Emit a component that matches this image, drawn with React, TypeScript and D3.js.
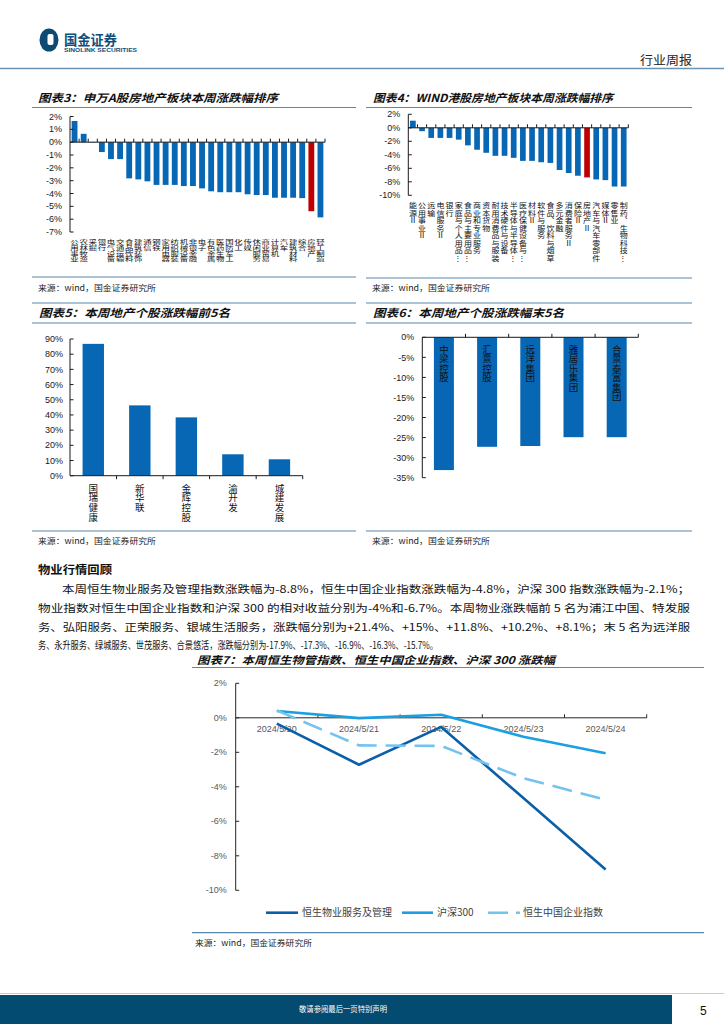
import React from 'react';
import * as d3 from 'd3';

const CJK = '"Noto Sans CJK SC", "Noto Sans", sans-serif';
const NUM = '"Liberation Sans", Arial, sans-serif';
const BLUE = '#0767b4';
const RED = '#c00000';
const RULE = '#5a87ad';

// ---------- Chart 3 data ----------
const c3Categories = ['公用事业', '农林牧渔', '采掘', '银行', '电气设备', '交通运输', '食品饮料', '建筑装饰', '通信', '钢铁', '家用电器', '纺织服装', '机械设备', '非银金融', '电子', '有色金属', '医药生物', '国防军工', '化工', '传媒', '休闲服务', '商业贸易', '计算机', '汽车', '建筑材料', '综合', '房地产', '轻工制造'];
const c3Values = [1.65, 0.65, -0.03, -0.77, -1.32, -1.32, -2.82, -2.9, -3.05, -3.33, -3.33, -3.33, -3.42, -3.42, -3.6, -3.83, -3.9, -3.9, -3.9, -4.06, -4.12, -4.12, -4.33, -4.33, -4.33, -4.36, -5.38, -5.86];
const c3Ticks = [2, 1, 0, -1, -2, -3, -4, -5, -6, -7];
const c3Highlight = '房地产';

// ---------- Chart 4 data ----------
const c4Categories = ['能源Ⅱ', '公用事业Ⅱ', '运输', '电信服务Ⅱ', '银行', '家庭与个人用品⋮', '食品与主要用品⋮', '商业和专业服务', '资本货物', '耐用消费品与服装', '技术硬件与设备', '半导体与半导体⋮', '医疗保健设备与⋮', '材料Ⅱ', '软件与服务', '食品、饮料与烟草', '多元金融', '消费者服务Ⅱ', '保险Ⅱ', '房地产Ⅱ', '汽车与汽车零部件', '媒体Ⅱ', '零售业', '制药、生物科技⋮'];
const c4Values = [1.05, -0.5, -1.5, -1.5, -1.5, -1.75, -2.6, -3.25, -3.7, -4.15, -4.15, -4.45, -4.9, -4.9, -5.1, -5.2, -6.25, -6.7, -7.1, -7.35, -7.65, -7.75, -8.7, -8.7];
const c4Ticks = [2, 0, -2, -4, -6, -8, -10];
const c4Highlight = '房地产Ⅱ';

// ---------- Chart 5 data ----------
const c5Names = ['国瑞健康', '新华联', '金辉控股', '渝开发', '城建发展'];
const c5Values = [86.8, 46.3, 38.4, 14.1, 10.8];
const c5Ticks = [0, 10, 20, 30, 40, 50, 60, 70, 80, 90];

// ---------- Chart 6 data ----------
const c6Names = ['中梁控股', '汇景控股', '远洋集团', '雅居乐集团', '合景泰富集团'];
const c6Values = [-33.1, -27.3, -27.1, -24.9, -24.9];
const c6Ticks = [0, -5, -10, -15, -20, -25, -30, -35];

// ---------- Chart 7 data ----------
const c7Dates = ['2024/5/20', '2024/5/21', '2024/5/22', '2024/5/23', '2024/5/24'];
const c7PropertyMgmt = [-0.34, -2.72, -0.53, -4.65, -8.8];
const c7CSI300 = [0.39, -0.02, 0.18, -1.1, -2.05];
const c7HSCEI = [0.43, -1.6, -1.63, -3.5, -4.75];
const c7Ticks = [2, 0, -2, -4, -6, -8, -10];
const c7SeriesNames = ['恒生物业服务及管理', '沪深300', '恒生中国企业指数'];

// ---------- Text ----------
const sourceText = '来源：wind，国金证券研究所';
const paraLines = [
  '本周恒生物业服务及管理指数涨跌幅为-8.8%，恒生中国企业指数涨跌幅为-4.8%，沪深 300 指数涨跌幅为-2.1%；',
  '物业指数对恒生中国企业指数和沪深 300 的相对收益分别为-4%和-6.7%。本周物业涨跌幅前 5 名为浦江中国、特发服',
  '务、弘阳服务、正荣服务、银城生活服务，涨跌幅分别为+21.4%、+15%、+11.8%、+10.2%、+8.1%；末 5 名为远洋服',
  '务、永升服务、绿城服务、世茂服务、合景悠活，涨跌幅分别为-17.9%、-17.3%、-16.9%、-16.3%、-15.7%。',
];

const pct = (d: number) => `${d}%`;

function Title({ x, y, text, len, size = 11 }: { x: number; y: number; text: string; len: number; size?: number }) {
  return (
    <text x={x} y={y} fontFamily={CJK} fontSize={size} fontWeight={700} fontStyle="italic" fill="#111" textLength={len} lengthAdjust="spacingAndGlyphs">
      {text}
    </text>
  );
}

function Rule({ x1, x2, y, w = 1.2 }: { x1: number; x2: number; y: number; w?: number }) {
  return <line x1={x1} x2={x2} y1={y} y2={y} stroke={RULE} strokeWidth={w} />;
}

function Source({ x, y }: { x: number; y: number }) {
  return (
    <text x={x} y={y} fontFamily={CJK} fontSize={8} fill="#222" textLength={118} lengthAdjust="spacingAndGlyphs">
      {sourceText}
    </text>
  );
}

function YAxis({ scale, ticks, x, labelGap = 8, color = '#1a1a1a', labelColor = '#1a1a1a' }: any) {
  const [d0, d1] = scale.domain();
  return (
    <g>
      <line x1={x} x2={x} y1={scale(d0)} y2={scale(d1)} stroke={color} strokeWidth={1} />
      {ticks.map((t: number) => (
        <g key={t}>
          <line x1={x} x2={x + 3.5} y1={scale(t)} y2={scale(t)} stroke={color} strokeWidth={1} />
          <text x={x - labelGap} y={scale(t)} dy="0.35em" textAnchor="end" fontFamily={NUM} fontSize={9} fill={labelColor}>
            {pct(t)}
          </text>
        </g>
      ))}
    </g>
  );
}

function XAxisLine({ band, y, dir, color = '#1a1a1a' }: any) {
  const [r0, r1] = band.range();
  const n = band.domain().length;
  const step = (r1 - r0) / n;
  return (
    <g>
      <line x1={r0} x2={r1} y1={y} y2={y} stroke={color} strokeWidth={1} />
      {d3.range(1, n + 1).map((i) => (
        <line key={i} x1={r0 + i * step} x2={r0 + i * step} y1={y} y2={y + dir * 3.5} stroke={color} strokeWidth={1} />
      ))}
    </g>
  );
}

// vertical text using vertical writing mode; y0 = centre of first character, step = char pitch
function VText({ cx, y0, step, text, size, sy = 1, fill = '#111' }: any) {
  const ls = step / sy - size;
  return (
    <text
      transform={`translate(${cx},${y0}) scale(1,${sy})`}
      x={0}
      y={-size / 2}
      fontFamily={CJK}
      fontSize={size}
      letterSpacing={ls}
      fill={fill}
      style={{ writingMode: 'vertical-rl', textOrientation: 'upright' } as any}
    >
      {text}
    </text>
  );
}

function Header() {
  return (
    <g>
      <ellipse cx={49} cy={40} rx={9.5} ry={11.5} fill="#0c4a73" />
      <rect x={47.5} y={34} width={6} height={11} rx={2} fill="#fff" />
      <text x={64} y={44.5} fontFamily={CJK} fontSize={13.5} fontWeight={700} fill="#0d4f7c" textLength={53} lengthAdjust="spacingAndGlyphs">
        国金证券
      </text>
      <text x={64} y={51.5} fontFamily={NUM} fontSize={5.6} fontWeight={700} fill="#0d4f7c" textLength={73} lengthAdjust="spacingAndGlyphs">
        SINOLINK SECURITIES
      </text>
      <text x={640} y={65} fontFamily={CJK} fontSize={12} fill="#222" textLength={52} lengthAdjust="spacingAndGlyphs">
        行业周报
      </text>
      <line x1={0} x2={724} y1={68.5} y2={68.5} stroke="#6b93b3" strokeWidth={1.6} />
    </g>
  );
}

function Chart3() {
  const x = d3.scaleBand<string>().domain(c3Categories).range([70, 325]).paddingInner(0.36).paddingOuter(0.18);
  const y = d3.scaleLinear().domain([2, -7]).range([116.5, 232]);
  const y0 = y(0);
  return (
    <g>
      <Title x={38} y={102} text="图表3：申万A股房地产板块本周涨跌幅排序" len={240} />
      <Rule x1={32} x2={356} y={107.5} />
      {c3Categories.map((c, i) => {
        const v = c3Values[i];
        const yy = y(v);
        return (
          <rect key={c} x={x(c)} width={x.bandwidth()} y={Math.min(yy, y0)} height={Math.abs(yy - y0)} fill={c === c3Highlight ? RED : BLUE} />
        );
      })}
      <XAxisLine band={x} y={y0} dir={-1} />
      <YAxis scale={y} ticks={c3Ticks} x={70} />
      {c3Categories.map((c) => (
        <VText key={c} cx={(x(c) as number) + x.bandwidth() / 2} y0={241.7} step={5.9} text={c} size={8.4} sy={0.66} />
      ))}
      <Rule x1={32} x2={356} y={277} />
      <Source x={38} y={291} />
    </g>
  );
}

function Chart4() {
  const x = d3.scaleBand<string>().domain(c4Categories).range([408.3, 628.3]).paddingInner(0.38).paddingOuter(0.19);
  const y = d3.scaleLinear().domain([2, -10]).range([114.3, 195.3]);
  const y0 = y(0);
  return (
    <g>
      <Title x={373} y={102} text="图表4：WIND港股房地产板块本周涨跌幅排序" len={240} />
      <Rule x1={366} x2={692} y={107.5} />
      {c4Categories.map((c, i) => {
        const v = c4Values[i];
        const yy = y(v);
        return (
          <rect key={c} x={x(c)} width={x.bandwidth()} y={Math.min(yy, y0)} height={Math.abs(yy - y0)} fill={c === c4Highlight ? RED : BLUE} />
        );
      })}
      <XAxisLine band={x} y={y0} dir={-1} />
      <YAxis scale={y} ticks={c4Ticks} x={408.3} />
      {c4Categories.map((c) => (
        <VText key={c} cx={(x(c) as number) + x.bandwidth() / 2} y0={205.5} step={7.5} text={c} size={8} sy={0.92} />
      ))}
      <Rule x1={366} x2={692} y={278} />
      <Source x={372} y={291} />
    </g>
  );
}

function Chart5() {
  const x = d3.scaleBand<string>().domain(c5Names).range([70, 302.7]).paddingInner(0.54).paddingOuter(0.27);
  const y = d3.scaleLinear().domain([0, 90]).range([475.7, 339]);
  return (
    <g>
      <Rule x1={32} x2={356} y={303} />
      <Title x={39} y={317} text="图表5：本周地产个股涨跌幅前5名" len={191} />
      <Rule x1={32} x2={356} y={323} />
      {c5Names.map((c, i) => (
        <rect key={c} x={x(c)} width={x.bandwidth()} y={y(c5Values[i])} height={y(0) - y(c5Values[i])} fill={BLUE} />
      ))}
      <XAxisLine band={x} y={y(0)} dir={1} />
      <YAxis scale={y} ticks={c5Ticks} x={70} labelGap={7} />
      {c5Names.map((c) => (
        <VText key={c} cx={(x(c) as number) + x.bandwidth() / 2} y0={488} step={9.8} text={c} size={9.5} sy={1} />
      ))}
      <Rule x1={32} x2={356} y={531} />
      <Source x={38} y={543.5} />
    </g>
  );
}

function Chart6() {
  const x = d3.scaleBand<string>().domain(c6Names).range([422.3, 638.3]).paddingInner(0.537).paddingOuter(0.2685);
  const y = d3.scaleLinear().domain([0, -35]).range([337.3, 477.7]);
  return (
    <g>
      <Rule x1={366} x2={692} y={303} />
      <Title x={373} y={317} text="图表6：本周地产个股涨跌幅末5名" len={191} />
      <Rule x1={366} x2={692} y={323} />
      {c6Names.map((c, i) => (
        <rect key={c} x={x(c)} width={x.bandwidth()} y={y(0)} height={y(c6Values[i]) - y(0)} fill={BLUE} />
      ))}
      <XAxisLine band={x} y={y(0)} dir={-1} />
      <YAxis scale={y} ticks={c6Ticks} x={422.3} labelGap={8} />
      {c6Names.map((c) => (
        <VText key={c} cx={(x(c) as number) + x.bandwidth() / 2} y0={349.3} step={9.4} text={c} size={9.5} sy={1} fill="#111" />
      ))}
      <Rule x1={366} x2={692} y={531} />
      <Source x={372} y={543.5} />
    </g>
  );
}

function Paragraph() {
  return (
    <g fontFamily={CJK} fill="#111">
      <text x={38} y={574} fontSize={11.5} fontWeight={700} textLength={74} lengthAdjust="spacingAndGlyphs">
        物业行情回顾
      </text>
      <text x={62} y={593} fontSize={10.5} textLength={628} lengthAdjust="spacingAndGlyphs">{paraLines[0]}</text>
      <text x={38} y={612} fontSize={10.5} textLength={652} lengthAdjust="spacingAndGlyphs">{paraLines[1]}</text>
      <text x={38} y={631} fontSize={10.5} textLength={652} lengthAdjust="spacingAndGlyphs">{paraLines[2]}</text>
      <text x={38} y={648.5} fontSize={10} textLength={400} lengthAdjust="spacingAndGlyphs">{paraLines[3]}</text>
    </g>
  );
}

function Chart7() {
  const band = d3.scaleBand<string>().domain(c7Dates).range([235.7, 646.7]);
  const xc = (d: string) => (band(d) as number) + band.bandwidth() / 2;
  const y = d3.scaleLinear().domain([2, -10]).range([683.3, 890.3]);
  const line = d3
    .line<number>()
    .x((_, i) => xc(c7Dates[i]))
    .y((v) => y(v));
  const series = [
    { name: c7SeriesNames[0], data: c7PropertyMgmt, color: '#0b5fa8', dash: undefined },
    { name: c7SeriesNames[1], data: c7CSI300, color: '#1a9fe3', dash: undefined },
    { name: c7SeriesNames[2], data: c7HSCEI, color: '#74c3ef', dash: '20 9' },
  ];
  const legend = [
    { x1: 266, x2: 298, tx: 302, s: series[0] },
    { x1: 402, x2: 433, tx: 437, s: series[1] },
    { x1: 488, x2: 520, tx: 523, s: series[2] },
  ];
  return (
    <g>
      <Title x={197} y={664} text="图表7：本周恒生物管指数、恒生中国企业指数、沪深 300 涨跌幅" len={358} size={10.5} />
      <Rule x1={192} x2={704} y={667.5} />
      <YAxis scale={y} ticks={c7Ticks} x={235.7} labelGap={9} color="#262626" labelColor="#595959" />
      <XAxisLine band={band} y={y(0)} dir={-1} color="#262626" />
      {c7Dates.map((d) => (
        <text key={d} x={xc(d)} y={728.5} dy="0.35em" textAnchor="middle" fontFamily={NUM} fontSize={9} fill="#595959">
          {d}
        </text>
      ))}
      {series.map((s) => (
        <path key={s.name} d={line(s.data) as string} fill="none" stroke={s.color} strokeWidth={2.6} strokeDasharray={s.dash} strokeLinejoin="round" />
      ))}
      {legend.map((l) => (
        <g key={l.s.name}>
          <line x1={l.x1} x2={l.x2} y1={912.7} y2={912.7} stroke={l.s.color} strokeWidth={2.6} strokeDasharray={l.s.dash ? '20 8' : undefined} />
          <text x={l.tx} y={912.7} dy="0.36em" fontFamily={CJK} fontSize={10} fill="#404040">
            {l.s.name}
          </text>
        </g>
      ))}
      <Rule x1={192} x2={704} y={932.7} />
      <text x={195} y={946} fontFamily={CJK} fontSize={8} fill="#222" textLength={117} lengthAdjust="spacingAndGlyphs">
        {sourceText}
      </text>
    </g>
  );
}

function Footer() {
  return (
    <g>
      <line x1={0} x2={724} y1={993.5} y2={993.5} stroke="#b9cfdd" strokeWidth={1.2} />
      <rect x={0} y={995} width={672} height={29} fill="#034b70" />
      <text x={343} y={1012} textAnchor="middle" fontFamily={CJK} fontSize={7.5} fill="#fff" textLength={88} lengthAdjust="spacingAndGlyphs">
        敬请参阅最后一页特别声明
      </text>
      <text x={700} y={1015} fontFamily={NUM} fontSize={12} fill="#111">
        5
      </text>
    </g>
  );
}

export default function App() {
  return (
    <svg width={724} height={1024} viewBox="0 0 724 1024" style={{ position: 'absolute', left: 0, top: 0 }} xmlns="http://www.w3.org/2000/svg">
      <rect width={724} height={1024} fill="#fff" />
      <Header />
      <Chart3 />
      <Chart4 />
      <Chart5 />
      <Chart6 />
      <Paragraph />
      <Chart7 />
      <Footer />
    </svg>
  );
}
